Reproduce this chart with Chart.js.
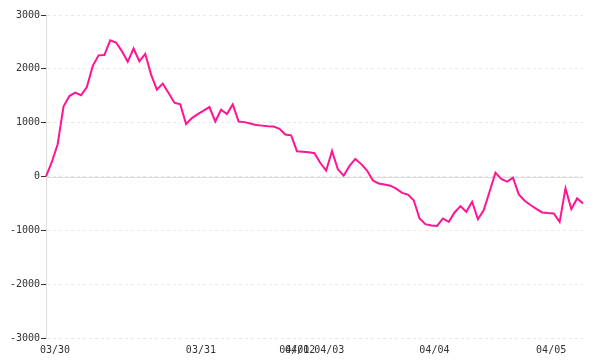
<!DOCTYPE html>
<html lang="en">
<head>
    <meta charset="UTF-8">
    <title>Balance curve</title>
    <script src="https://cdn.jsdelivr.net/npm/chart.js"></script>
    <style>
        body { margin: 0; background: #fff; }
        #wrap { width: 600px; height: 360px; }
    </style>
</head>
<body>
    <div id="wrap"><canvas id="lineChart"></canvas></div>

    <script>
        // one value per sample
        const values = [
            0, 270, 600, 1300, 1495, 1560, 1510, 1660, 2050, 2250,
            2255, 2530, 2490, 2330, 2130, 2378, 2141, 2279, 1893, 1613,
            1725, 1551, 1370, 1340, 974, 1085, 1160, 1225, 1290, 1022,
            1240, 1160, 1339, 1022, 1010, 985, 955, 945, 935, 929,
            886, 780, 765, 470, 460, 450, 433, 250, 108, 476,
            134, 15, 196, 326, 230, 110, -75, -130, -150, -170,
            -225, -305, -335, -440, -780, -885, -910, -917, -780, -843,
            -668, -550, -656, -470, -793, -625, -280, 71, -47, -97,
            -22, -332, -451, -530, -600, -668, -680, -686, -843, -220,
            -606, -407, -500
        ];
        // first sample of each day and the label shown there
        const dayIndex = [0, 25, 41, 42, 47, 65, 85];
        const dayLabels = ["03/30", "03/31", "04/01", "04/02", "04/03", "04/04", "04/05"];

        const labels = values.map((v, i) => i);
        const tickFont = { family: "DejaVu Sans Mono", size: 10 };

        // solid line at zero, the other grid lines stay dashed
        const zeroLine = {
            id: "zeroLine",
            beforeDatasetsDraw(chart) {
                const { ctx, chartArea, scales } = chart;
                const y = Math.round(scales.y.getPixelForValue(0)) + 0.5;
                ctx.save();
                ctx.strokeStyle = "#dddddd";
                ctx.lineWidth = 1;
                ctx.beginPath();
                ctx.moveTo(chartArea.left, y);
                ctx.lineTo(chartArea.right, y);
                ctx.stroke();
                ctx.restore();
            }
        };

        new Chart(document.getElementById("lineChart"), {
            type: "line",
            data: {
                labels: labels,
                datasets: [{
                    data: values,
                    borderColor: "#ff1493",
                    borderWidth: 2,
                    pointRadius: 0,
                    tension: 0,
                    fill: false
                }]
            },
            options: {
                responsive: true,
                maintainAspectRatio: false,
                animation: false,
                layout: { padding: { left: 0, right: 17, top: 15, bottom: 0 } },
                plugins: {
                    legend: { display: false },
                    tooltip: { enabled: false }
                },
                scales: {
                    x: {
                        afterFit: s => { s.height = 22; },
                        grid: { display: false, drawTicks: false },
                        border: { display: false },
                        ticks: {
                            autoSkip: false,
                            maxRotation: 0,
                            minRotation: 0,
                            padding: 6,
                            labelOffset: 9,
                            color: "#333",
                            font: tickFont,
                            callback: function(val, i) {
                                const k = dayIndex.indexOf(i);
                                return k >= 0 ? dayLabels[k] : "";
                            }
                        }
                    },
                    y: {
                        min: -3000,
                        max: 3000,
                        afterFit: s => { s.width = 46; },
                        grid: {
                            color: "#e8e8e8",
                            tickColor: "#333",
                            tickLength: 5
                        },
                        border: { color: "#dddddd", dash: [3, 3] },
                        ticks: {
                            stepSize: 1000,
                            padding: 1,
                            color: "#333",
                            font: tickFont,
                            callback: v => String(v)
                        }
                    }
                }
            },
            plugins: [zeroLine]
        });
    </script>
</body>
</html>
